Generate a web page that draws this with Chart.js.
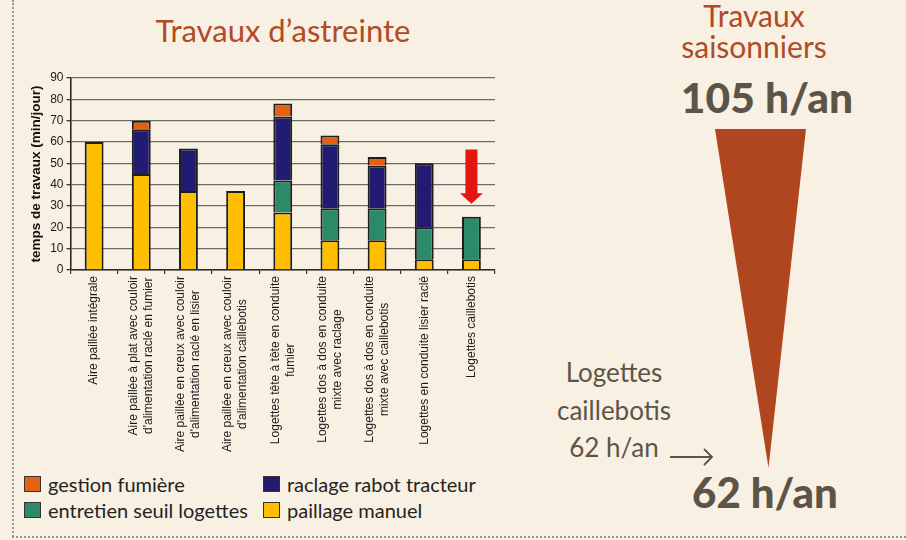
<!DOCTYPE html>
<html lang="fr">
<head>
    <meta charset="UTF-8">
    <title>Travaux d'astreinte</title>
    <script src="https://cdn.jsdelivr.net/npm/chart.js"></script>
    <style>
        body { margin: 0; }
        #page { position: relative; width: 906px; height: 540px; background: #f8f0e2; overflow: hidden; font-family: Lato, "Noto Sans", sans-serif; }
        .txt { position: absolute; text-align: center; white-space: pre; line-height: 1; }
        .rouille { color: #b24a26; }
        .brun { color: #5d5448; }
        #bordGauche { position: absolute; left: 12px; top: 0; height: 537px; border-left: 2px dotted #9a958c; }
        #bordBas { position: absolute; left: 12px; top: 536px; width: 894px; border-top: 2px dotted #9a958c; }
        #graphique { position: absolute; left: 0; top: 60px; }
        #legende { position: absolute; left: 24px; top: 471px; display: grid; grid-template-columns: 239px 240px; }
        .item { display: flex; align-items: flex-start; height: 26px; font-size: 20px; line-height: 26px; color: #26231f; }
        .carre { width: 15px; height: 14px; margin-top: 5px; margin-right: 7px; border: 1px solid #333; }
        svg { position: absolute; left: 0; top: 0; }
    </style>
</head>
<body>
<div id="page">
    <div id="bordGauche"></div>
    <div id="bordBas"></div>

    <div class="txt rouille" style="left:83px; top:15px; width:400px; font-size:31px;">Travaux d’astreinte</div>

    <svg width="906" height="540">
        <polygon points="715,129 806,129 768.5,468" fill="#b0461f"></polygon>
        <line x1="670" y1="457" x2="712" y2="457" stroke="#5d5448" stroke-width="1.8"></line>
        <polyline points="704,449 712,457 704,465" fill="none" stroke="#5d5448" stroke-width="1.8"></polyline>
    </svg>

    <div class="txt rouille" style="left:654px; top:0px; width:200px; font-size:30px;">Travaux</div>
    <div class="txt rouille" style="left:654px; top:31px; width:200px; font-size:30px;">saisonniers</div>
    <div class="txt brun" style="left:667px; top:76px; width:200px; font-size:42.5px; font-weight:900;">105 h/an</div>

    <div class="txt brun" style="left:514px; top:359px; width:200px; font-size:26px;">Logettes</div>
    <div class="txt brun" style="left:514px; top:397px; width:200px; font-size:26px;">caillebotis</div>
    <div class="txt brun" style="left:514px; top:434px; width:200px; font-size:26px;">62 h/an</div>
    <div class="txt brun" style="left:665px; top:471px; width:200px; font-size:42px; font-weight:900;">62 h/an</div>

    <canvas id="graphique" width="520" height="400"></canvas>
    <div id="legende"></div>
</div>

<script>
    // catégories (libellés sur deux lignes quand il le faut)
    const categories = [
        ['Aire paillée intégrale'],
        ['Aire paillée à plat avec couloir', "d'alimentation raclé en fumier"],
        ['Aire paillée en creux avec couloir', "d'alimentation raclé en lisier"],
        ['Aire paillée en creux avec couloir', "d'alimentation caillebotis"],
        ['Logettes tête à tête en conduite', 'fumier'],
        ['Logettes dos à dos en conduite', 'mixte avec raclage'],
        ['Logettes dos à dos en conduite', 'mixte avec caillebotis'],
        ['Logettes en conduite lisier raclé'],
        ['Logettes caillebotis']
    ];

    // minutes par jour
    const paillageManuel = [60, 45, 37, 37, 27, 14, 14, 5, 5];
    const entretienSeuil = [null, null, null, null, 15, 15, 15, 15, 20];
    const raclageRabot   = [null, 21, 20, null, 30, 30, 20, 30, null];
    const gestionFumiere = [null, 4, null, null, 6, 4, 4, null, null];

    const yTicks = [0, 90, 10]; // min, max, pas

    // flèche rouge au-dessus des logettes caillebotis
    const flecheCategorie = 8;
    const flecheValeurs = [56.5, 36, 31]; // haut du trait, début de la pointe, pointe

    const datasets = [
        { label: 'paillage manuel', data: paillageManuel, backgroundColor: '#ffbf00' },
        { label: 'entretien seuil logettes', data: entretienSeuil, backgroundColor: '#2b8b68' },
        { label: 'raclage rabot tracteur', data: raclageRabot, backgroundColor: '#211c72' },
        { label: 'gestion fumière', data: gestionFumiere, backgroundColor: '#e6610f' }
    ];
    datasets.forEach(d => {
        d.borderColor = '#1e1e1e';
        d.borderWidth = 2;
        d.borderSkipped = 'start';
        d.barPercentage = 0.4;
        d.categoryPercentage = 1;
    });

    // libellés de l'axe x, tournés, lignes centrées entre elles
    const libellesX = {
        id: 'libellesX',
        afterDraw(chart) {
            const ctx = chart.ctx;
            const x = chart.scales.x;
            ctx.save();
            ctx.font = '12px "Liberation Sans", Arial, sans-serif';
            ctx.fillStyle = '#1a1a1a';
            ctx.textAlign = 'center';
            ctx.textBaseline = 'middle';
            const haut = x.bottom + 2;
            chart.data.labels.forEach((lignes, i) => {
                const px = x.getPixelForTick(i);
                const w = Math.max(...lignes.map(l => ctx.measureText(l).width));
                ctx.save();
                ctx.translate(px, haut);
                ctx.rotate(-Math.PI / 2);
                lignes.forEach((l, j) => {
                    ctx.fillText(l, -w / 2, (j - (lignes.length - 1) / 2) * 15);
                });
                ctx.restore();
            });
            ctx.restore();
        }
    };

    const flecheRouge = {
        id: 'flecheRouge',
        afterDatasetsDraw(chart) {
            const ctx = chart.ctx;
            const cx = chart.scales.x.getPixelForValue(flecheCategorie);
            const y = chart.scales.y;
            const y1 = y.getPixelForValue(flecheValeurs[0]);
            const y2 = y.getPixelForValue(flecheValeurs[1]);
            const y3 = y.getPixelForValue(flecheValeurs[2]);
            ctx.save();
            ctx.fillStyle = '#e3170f';
            ctx.beginPath();
            ctx.moveTo(cx - 6, y1);
            ctx.lineTo(cx + 6, y1);
            ctx.lineTo(cx + 6, y2);
            ctx.lineTo(cx + 11.5, y2);
            ctx.lineTo(cx, y3);
            ctx.lineTo(cx - 11.5, y2);
            ctx.lineTo(cx - 6, y2);
            ctx.closePath();
            ctx.fill();
            ctx.restore();
        }
    };

    new Chart(document.getElementById('graphique'), {
        type: 'bar',
        data: { labels: categories, datasets: datasets },
        options: {
            responsive: false,
            animation: false,
            layout: { padding: { left: 28, top: 18, right: 25, bottom: 186 } },
            plugins: { legend: { display: false }, tooltip: { enabled: false } },
            scales: {
                x: {
                    stacked: true,
                    ticks: { display: false },
                    grid: { drawOnChartArea: false, color: '#333', tickLength: 4, lineWidth: 1.2 },
                    border: { color: '#2a2a2a', width: 1.6 }
                },
                y: {
                    stacked: true,
                    min: yTicks[0],
                    max: yTicks[1],
                    ticks: {
                        stepSize: yTicks[2],
                        padding: 3,
                        color: '#1a1a1a',
                        font: { family: '"Liberation Sans", Arial, sans-serif', size: 12 }
                    },
                    grid: { color: '#6a6a6a', tickColor: '#333', tickLength: 4, lineWidth: 1.3 },
                    border: { color: '#2a2a2a', width: 1.6 },
                    title: {
                        display: true,
                        text: 'temps de travaux (min/jour)',
                        color: '#111',
                        padding: { top: 0, bottom: 3 },
                        font: { family: '"Liberation Sans", Arial, sans-serif', size: 13.5, weight: 'bold' }
                    }
                }
            }
        },
        plugins: [libellesX, flecheRouge]
    });

    // légende HTML : gestion / raclage puis entretien / paillage
    const ordreLegende = [3, 2, 1, 0];
    const legende = document.getElementById('legende');
    ordreLegende.forEach(i => {
        const item = document.createElement('div');
        item.className = 'item';
        item.innerHTML = `<span class="carre" style="background:${datasets[i].backgroundColor}"></span>${datasets[i].label}`;
        legende.appendChild(item);
    });
</script>
</body>
</html>
